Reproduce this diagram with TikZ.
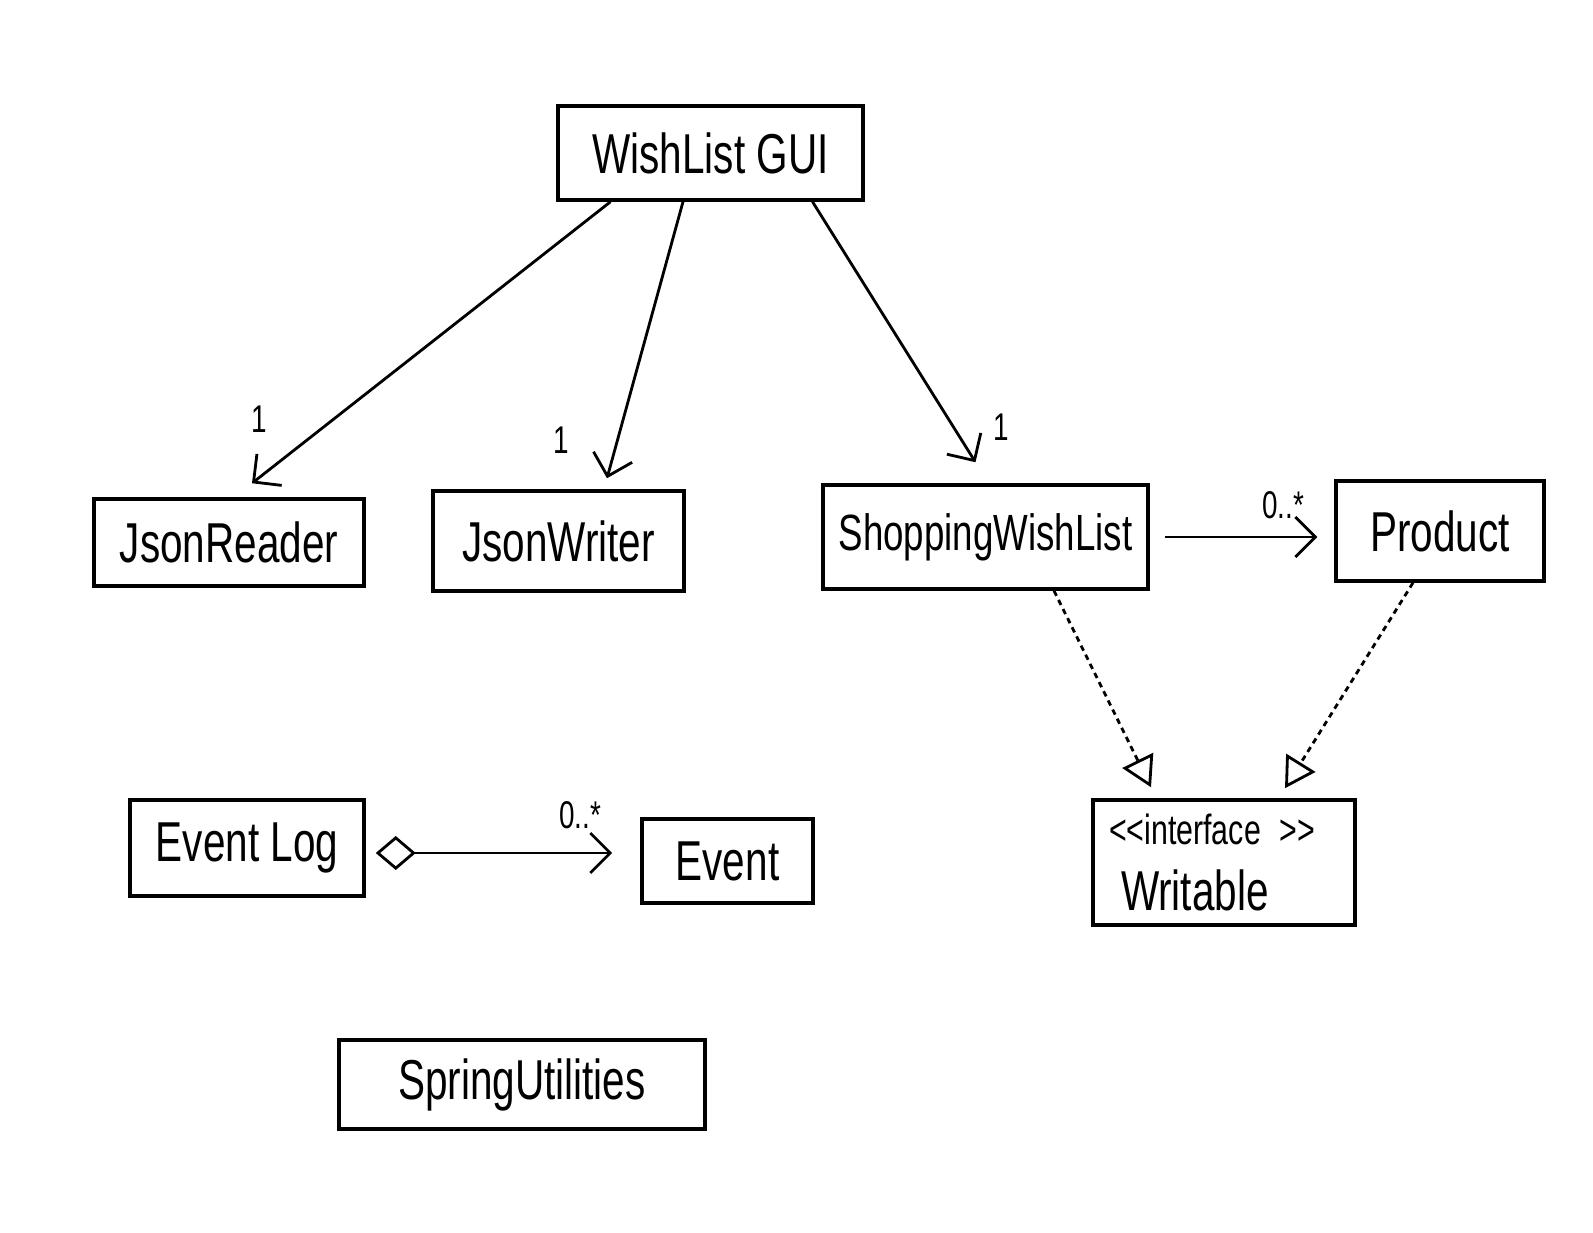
\documentclass[tikz,border=0pt]{standalone}
\usepackage{fontspec}
\setmainfont[FakeStretch=0.72]{Liberation Sans}
\usetikzlibrary{arrows.meta}

\tikzset{
	klasse/.style={draw, line width=1pt, inner sep=0pt, font=\fontsize{16}{19}\selectfont},
	assoc/.style={line width=0.8pt, -{Straight Barb[length=2mm,width=4mm]}},
	realiser/.style={line width=0.8pt, dash pattern=on 1.6pt off 1.3pt, -{Triangle[open,length=3mm,width=3.4mm]}},
	mult/.style={font=\fontsize{11}{13}\selectfont},
}

\begin{document}
\begin{tikzpicture}

\fill [white] (0,0) rectangle (15.93,-12.33)		;
\useasboundingbox (0,0) rectangle (15.93,-12.33)	;

%%%%------------Klasser----------------%%
\node [klasse, minimum width=3.05cm, minimum height=0.94cm] (gui) at (7.105,-1.53) {WishList GUI}				;
\node [klasse, minimum width=2.70cm, minimum height=0.87cm] (reader) at (2.29,-5.425) {JsonReader}				;
\node [klasse, minimum width=2.51cm, minimum height=1.00cm] (writer) at (5.585,-5.41) {JsonWriter}				;
\node [klasse, minimum width=3.25cm, minimum height=1.04cm, font=\fontsize{14.5}{17}\selectfont] (wishlist) at (9.855,-5.37) {ShoppingWishList}	;
\node [klasse, minimum width=2.08cm, minimum height=1.00cm] (product) at (14.40,-5.31) {Product}				;
\node [klasse, minimum width=2.34cm, minimum height=0.96cm] (eventlog) at (2.47,-8.48) {Event Log}				;
\node [klasse, minimum width=1.71cm, minimum height=0.84cm] (event) at (7.275,-8.61) {Event}					;
\node [klasse, minimum width=3.66cm, minimum height=0.89cm] (spring) at (5.22,-10.845) {SpringUtilities}		;
\node [klasse, minimum width=2.62cm, minimum height=1.25cm, text width=2.3cm, align=left] (writable) at (12.24,-8.625)
	{{\fontsize{12}{16}\selectfont <\kern0pt<\kern0pt interface >\kern0pt>}\\\hspace*{0.12cm}Writable}				;

%%%%------------GUI assosiasjoner----------------%%
\draw [assoc] ([xshift=-1.0cm]gui.south) -- ([xshift=0.23cm,yshift=0.14cm]reader.north)		;
\node [mult] (m1) at (2.59,-4.19) {1}															;
\draw [assoc] ([xshift=-0.275cm]gui.south) -- ([xshift=0.485cm,yshift=0.11cm]writer.north)	;
\node [mult] (m2) at (5.61,-4.40) {1}															;
\draw [assoc] ([xshift=1.02cm]gui.south) -- ([xshift=-0.1cm,yshift=0.21cm]wishlist.north)	;
\node [mult] (m3) at (10.01,-4.27) {1}														;

%%%%------------Produkter----------------%%
\draw [assoc] ([xshift=0.15cm]wishlist.east) -- ([xshift=-0.17cm]wishlist.east -| product.west)	;
\node [mult] (m4) at (12.83,-5.05) {0..*}														;

%%%%------------Writable----------------%%
\draw [realiser] ([xshift=0.685cm]wishlist.south) -- ([xshift=-0.73cm,yshift=0.11cm]writable.north)	;
\draw [realiser] ([xshift=-0.27cm]product.south) -- ([xshift=0.61cm,yshift=0.10cm]writable.north)		;

%%%%------------Hendelser----------------%%
\draw [line width=0.8pt, {Diamond[open,length=4mm,width=3.4mm]}-{Straight Barb[length=2mm,width=4mm]}]
	([xshift=0.1cm,yshift=-0.05cm]eventlog.east) -- ([xshift=-0.28cm,yshift=-0.05cm]eventlog.east -| event.west)	;
\node [mult] (m5) at (5.80,-8.15) {0..*}														;

\end{tikzpicture}
\end{document}
